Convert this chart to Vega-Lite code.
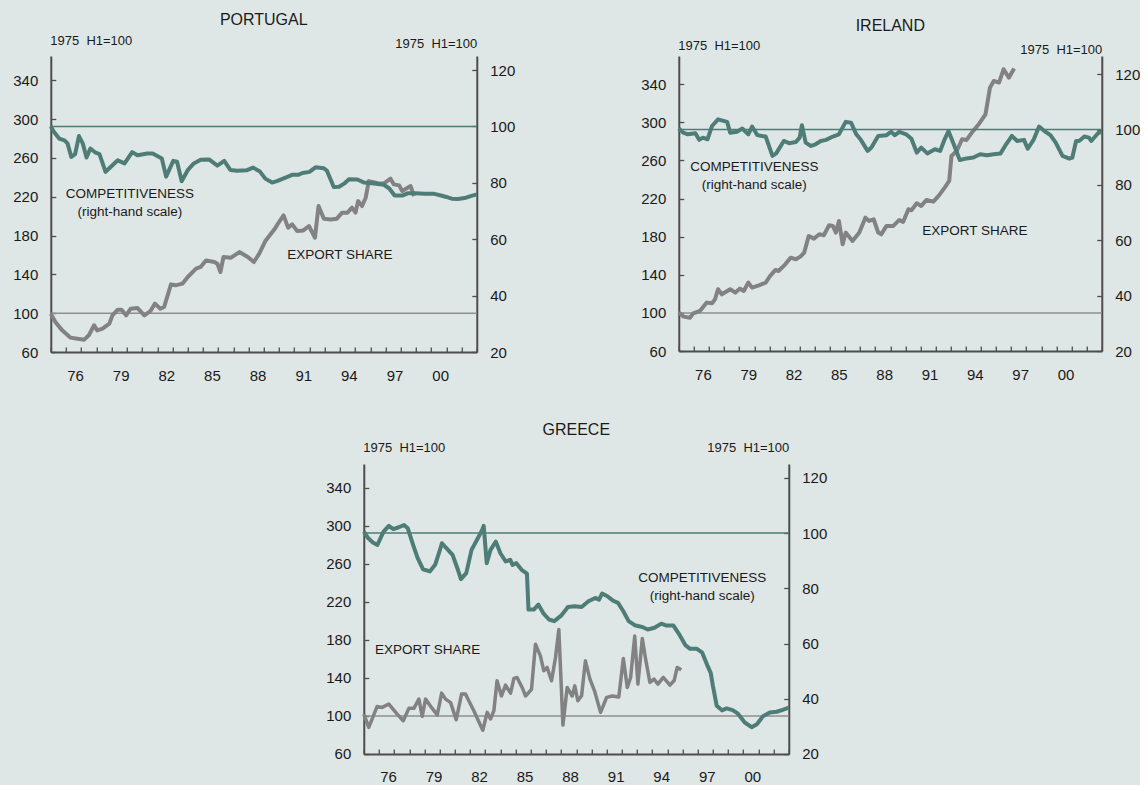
{
  "$schema": "https://vega.github.io/schema/vega-lite/v6.json",
  "background": "#dfe7e6",
  "padding": {"left": 12.3, "top": 11, "right": 0, "bottom": 0},
  "spacing": 39,
  "center": true,
  "config": {
    "view": {"stroke": null},
    "font": "Liberation Sans",
    "axis": {"domainColor": "#4d4d4d", "domainWidth": 2, "tickColor": "#4d4d4d", "tickWidth": 1.3, "labelFont": "Liberation Sans", "labelFontSize": 15, "labelColor": "#1a1a1a", "grid": false, "titleFont": "Liberation Sans", "titleFontSize": 13, "titleFontWeight": "normal", "titleColor": "#1a1a1a"},
    "title": {"font": "Liberation Sans", "fontSize": 16, "fontWeight": "normal", "color": "#1a1a1a", "anchor": "middle", "frame": "group"},
    "text": {"font": "Liberation Sans", "fontSize": 13.5, "color": "#1a1a1a"}
  },
  "datasets": {
    "pt_comp": [
      {"year": 1975.0, "value": 100.1}, {"year": 1975.2, "value": 98.1}, {"year": 1975.55, "value": 95.7}, {"year": 1975.9, "value": 95.1}, {"year": 1976.1, "value": 94.0}, {"year": 1976.35, "value": 89.2}, {"year": 1976.6, "value": 90.2}, {"year": 1976.85, "value": 96.6}, {"year": 1977.1, "value": 94.0}, {"year": 1977.35, "value": 89.0}, {"year": 1977.6, "value": 92.2}, {"year": 1977.95, "value": 90.7}, {"year": 1978.2, "value": 90.2}, {"year": 1978.6, "value": 83.9}, {"year": 1978.95, "value": 85.7}, {"year": 1979.4, "value": 88.0}, {"year": 1979.85, "value": 86.9}, {"year": 1980.35, "value": 90.9}, {"year": 1980.7, "value": 89.8}, {"year": 1981.35, "value": 90.4}, {"year": 1981.7, "value": 90.4}, {"year": 1982.0, "value": 89.5}, {"year": 1982.3, "value": 88.6}, {"year": 1982.58, "value": 82.2}, {"year": 1983.05, "value": 87.8}, {"year": 1983.3, "value": 87.5}, {"year": 1983.6, "value": 80.6}, {"year": 1984.0, "value": 84.5}, {"year": 1984.4, "value": 86.9}, {"year": 1984.85, "value": 88.2}, {"year": 1985.4, "value": 88.3}, {"year": 1985.95, "value": 86.1}, {"year": 1986.4, "value": 87.8}, {"year": 1986.8, "value": 84.6}, {"year": 1987.25, "value": 84.3}, {"year": 1987.9, "value": 84.5}, {"year": 1988.3, "value": 85.4}, {"year": 1988.75, "value": 84.0}, {"year": 1989.1, "value": 81.5}, {"year": 1989.55, "value": 80.1}, {"year": 1989.9, "value": 80.7}, {"year": 1990.55, "value": 82.1}, {"year": 1990.9, "value": 82.9}, {"year": 1991.3, "value": 82.9}, {"year": 1991.55, "value": 83.5}, {"year": 1992.0, "value": 83.9}, {"year": 1992.4, "value": 85.5}, {"year": 1992.95, "value": 85.2}, {"year": 1993.15, "value": 84.3}, {"year": 1993.6, "value": 78.5}, {"year": 1993.95, "value": 78.6}, {"year": 1994.3, "value": 79.8}, {"year": 1994.6, "value": 81.3}, {"year": 1995.15, "value": 81.2}, {"year": 1995.6, "value": 80.1}, {"year": 1996.25, "value": 79.8}, {"year": 1996.9, "value": 79.3}, {"year": 1997.25, "value": 78.0}, {"year": 1997.6, "value": 75.5}, {"year": 1998.1, "value": 75.5}, {"year": 1998.45, "value": 76.3}, {"year": 1999.0, "value": 76.3}, {"year": 1999.55, "value": 76.1}, {"year": 2000.2, "value": 76.1}, {"year": 2000.65, "value": 75.5}, {"year": 2001.0, "value": 75.0}, {"year": 2001.35, "value": 74.4}, {"year": 2001.75, "value": 74.3}, {"year": 2002.2, "value": 74.6}, {"year": 2002.6, "value": 75.3}, {"year": 2003.0, "value": 75.9}
    ],
    "pt_exp": [
      {"year": 1975.0, "value": 99.5}, {"year": 1975.3, "value": 90.9}, {"year": 1975.75, "value": 82.3}, {"year": 1976.3, "value": 74.8}, {"year": 1976.75, "value": 73.7}, {"year": 1977.2, "value": 72.7}, {"year": 1977.5, "value": 77.2}, {"year": 1977.85, "value": 87.5}, {"year": 1978.05, "value": 82.3}, {"year": 1978.4, "value": 84.0}, {"year": 1978.85, "value": 89.2}, {"year": 1979.05, "value": 97.8}, {"year": 1979.4, "value": 103.6}, {"year": 1979.65, "value": 103.6}, {"year": 1979.95, "value": 97.8}, {"year": 1980.25, "value": 104.6}, {"year": 1980.7, "value": 105.3}, {"year": 1981.15, "value": 97.8}, {"year": 1981.55, "value": 102.2}, {"year": 1981.85, "value": 109.8}, {"year": 1982.2, "value": 104.6}, {"year": 1982.45, "value": 106.4}, {"year": 1982.9, "value": 129.7}, {"year": 1983.2, "value": 128.7}, {"year": 1983.65, "value": 130.4}, {"year": 1984.0, "value": 137.3}, {"year": 1984.55, "value": 145.9}, {"year": 1984.85, "value": 147.6}, {"year": 1985.2, "value": 154.4}, {"year": 1985.75, "value": 152.7}, {"year": 1985.95, "value": 151.0}, {"year": 1986.15, "value": 142.4}, {"year": 1986.35, "value": 157.9}, {"year": 1986.85, "value": 157.2}, {"year": 1987.4, "value": 163.0}, {"year": 1987.95, "value": 157.9}, {"year": 1988.35, "value": 152.7}, {"year": 1988.7, "value": 161.3}, {"year": 1989.1, "value": 174.3}, {"year": 1989.7, "value": 186.4}, {"year": 1990.0, "value": 193.9}, {"year": 1990.3, "value": 200.8}, {"year": 1990.6, "value": 188.1}, {"year": 1990.87, "value": 191.5}, {"year": 1991.2, "value": 184.6}, {"year": 1991.6, "value": 185.3}, {"year": 1991.97, "value": 189.8}, {"year": 1992.36, "value": 177.8}, {"year": 1992.6, "value": 210.4}, {"year": 1992.95, "value": 197.4}, {"year": 1993.4, "value": 196.5}, {"year": 1993.8, "value": 197.4}, {"year": 1994.15, "value": 203.6}, {"year": 1994.5, "value": 203.6}, {"year": 1994.8, "value": 208.7}, {"year": 1995.03, "value": 203.6}, {"year": 1995.2, "value": 215.5}, {"year": 1995.46, "value": 210.4}, {"year": 1995.7, "value": 219.0}, {"year": 1995.9, "value": 236.1}, {"year": 1996.5, "value": 234.0}, {"year": 1996.9, "value": 233.7}, {"year": 1997.33, "value": 238.6}, {"year": 1997.55, "value": 232.7}, {"year": 1997.9, "value": 231.7}, {"year": 1998.1, "value": 225.8}, {"year": 1998.45, "value": 229.3}, {"year": 1998.65, "value": 231.0}, {"year": 1998.87, "value": 220.7}
    ],
    "ie_comp": [
      {"year": 1975.0, "value": 100.4}, {"year": 1975.3, "value": 98.9}, {"year": 1975.6, "value": 98.3}, {"year": 1976.1, "value": 98.7}, {"year": 1976.35, "value": 96.3}, {"year": 1976.6, "value": 97.1}, {"year": 1976.9, "value": 96.5}, {"year": 1977.2, "value": 101.3}, {"year": 1977.6, "value": 103.7}, {"year": 1978.2, "value": 102.8}, {"year": 1978.4, "value": 98.9}, {"year": 1978.85, "value": 99.2}, {"year": 1979.2, "value": 100.4}, {"year": 1979.6, "value": 98.3}, {"year": 1979.85, "value": 101.1}, {"year": 1980.2, "value": 98.0}, {"year": 1980.5, "value": 97.7}, {"year": 1980.75, "value": 97.5}, {"year": 1981.2, "value": 90.5}, {"year": 1981.45, "value": 91.4}, {"year": 1981.95, "value": 95.9}, {"year": 1982.3, "value": 95.1}, {"year": 1982.75, "value": 95.5}, {"year": 1983.0, "value": 97.1}, {"year": 1983.15, "value": 101.6}, {"year": 1983.4, "value": 95.3}, {"year": 1983.75, "value": 94.1}, {"year": 1984.05, "value": 94.7}, {"year": 1984.4, "value": 95.9}, {"year": 1984.75, "value": 96.3}, {"year": 1985.2, "value": 97.5}, {"year": 1985.6, "value": 98.3}, {"year": 1986.05, "value": 102.8}, {"year": 1986.4, "value": 102.5}, {"year": 1986.75, "value": 98.3}, {"year": 1987.05, "value": 96.3}, {"year": 1987.5, "value": 92.3}, {"year": 1987.75, "value": 93.5}, {"year": 1988.2, "value": 97.7}, {"year": 1988.75, "value": 98.0}, {"year": 1989.05, "value": 99.2}, {"year": 1989.3, "value": 98.0}, {"year": 1989.6, "value": 99.2}, {"year": 1990.05, "value": 98.3}, {"year": 1990.4, "value": 96.7}, {"year": 1990.75, "value": 91.7}, {"year": 1991.05, "value": 93.5}, {"year": 1991.45, "value": 91.4}, {"year": 1991.95, "value": 92.9}, {"year": 1992.3, "value": 92.3}, {"year": 1992.6, "value": 96.5}, {"year": 1992.85, "value": 99.5}, {"year": 1993.2, "value": 94.7}, {"year": 1993.6, "value": 89.0}, {"year": 1994.05, "value": 89.6}, {"year": 1994.5, "value": 89.9}, {"year": 1994.95, "value": 91.1}, {"year": 1995.4, "value": 90.7}, {"year": 1995.85, "value": 91.1}, {"year": 1996.3, "value": 91.4}, {"year": 1996.6, "value": 94.1}, {"year": 1997.05, "value": 97.7}, {"year": 1997.4, "value": 95.9}, {"year": 1997.85, "value": 96.3}, {"year": 1998.1, "value": 93.1}, {"year": 1998.5, "value": 96.5}, {"year": 1998.85, "value": 101.1}, {"year": 1999.2, "value": 99.5}, {"year": 1999.6, "value": 98.0}, {"year": 1999.95, "value": 95.3}, {"year": 2000.4, "value": 90.5}, {"year": 2000.85, "value": 89.5}, {"year": 2001.05, "value": 89.9}, {"year": 2001.3, "value": 95.9}, {"year": 2001.5, "value": 95.9}, {"year": 2001.85, "value": 97.5}, {"year": 2002.15, "value": 97.1}, {"year": 2002.3, "value": 95.9}, {"year": 2002.75, "value": 98.7}, {"year": 2003.0, "value": 99.2}
    ],
    "ie_exp": [
      {"year": 1975.0, "value": 100.3}, {"year": 1975.3, "value": 96.1}, {"year": 1975.75, "value": 95.0}, {"year": 1975.95, "value": 99.6}, {"year": 1976.4, "value": 102.0}, {"year": 1976.85, "value": 110.8}, {"year": 1977.2, "value": 110.1}, {"year": 1977.4, "value": 114.3}, {"year": 1977.6, "value": 124.8}, {"year": 1977.85, "value": 119.5}, {"year": 1978.4, "value": 124.8}, {"year": 1978.75, "value": 121.3}, {"year": 1979.05, "value": 125.5}, {"year": 1979.3, "value": 123.0}, {"year": 1979.6, "value": 131.8}, {"year": 1979.85, "value": 126.5}, {"year": 1980.3, "value": 129.0}, {"year": 1980.75, "value": 131.8}, {"year": 1981.05, "value": 138.8}, {"year": 1981.4, "value": 145.1}, {"year": 1981.6, "value": 144.0}, {"year": 1982.05, "value": 151.0}, {"year": 1982.4, "value": 158.0}, {"year": 1982.75, "value": 156.3}, {"year": 1983.05, "value": 159.1}, {"year": 1983.3, "value": 163.3}, {"year": 1983.6, "value": 180.8}, {"year": 1983.95, "value": 178.0}, {"year": 1984.3, "value": 182.5}, {"year": 1984.6, "value": 181.5}, {"year": 1984.95, "value": 192.0}, {"year": 1985.2, "value": 191.3}, {"year": 1985.4, "value": 184.3}, {"year": 1985.6, "value": 196.5}, {"year": 1985.85, "value": 172.0}, {"year": 1986.05, "value": 184.3}, {"year": 1986.5, "value": 175.5}, {"year": 1986.95, "value": 184.3}, {"year": 1987.35, "value": 200.0}, {"year": 1987.6, "value": 196.5}, {"year": 1987.9, "value": 198.3}, {"year": 1988.2, "value": 184.3}, {"year": 1988.4, "value": 182.5}, {"year": 1988.75, "value": 191.3}, {"year": 1989.2, "value": 191.3}, {"year": 1989.6, "value": 197.6}, {"year": 1989.85, "value": 195.5}, {"year": 1990.2, "value": 208.8}, {"year": 1990.4, "value": 207.7}, {"year": 1990.75, "value": 215.1}, {"year": 1991.05, "value": 212.3}, {"year": 1991.4, "value": 218.6}, {"year": 1991.85, "value": 216.8}, {"year": 1992.2, "value": 222.8}, {"year": 1992.6, "value": 231.5}, {"year": 1992.9, "value": 238.5}, {"year": 1993.05, "value": 264.8}, {"year": 1993.4, "value": 270.0}, {"year": 1993.75, "value": 282.3}, {"year": 1994.05, "value": 281.6}, {"year": 1994.4, "value": 289.3}, {"year": 1994.85, "value": 298.0}, {"year": 1995.3, "value": 308.5}, {"year": 1995.6, "value": 336.5}, {"year": 1995.85, "value": 343.5}, {"year": 1996.2, "value": 341.8}, {"year": 1996.5, "value": 355.8}, {"year": 1996.85, "value": 347.0}, {"year": 1997.2, "value": 356.5}
    ],
    "gr_comp": [
      {"year": 1975.0, "value": 100.5}, {"year": 1975.3, "value": 98.1}, {"year": 1975.6, "value": 96.6}, {"year": 1975.9, "value": 95.7}, {"year": 1976.3, "value": 100.5}, {"year": 1976.65, "value": 102.6}, {"year": 1976.95, "value": 101.4}, {"year": 1977.3, "value": 102.1}, {"year": 1977.65, "value": 102.9}, {"year": 1977.9, "value": 101.7}, {"year": 1978.25, "value": 95.7}, {"year": 1978.55, "value": 90.9}, {"year": 1978.9, "value": 86.9}, {"year": 1979.35, "value": 86.1}, {"year": 1979.7, "value": 88.5}, {"year": 1979.95, "value": 92.7}, {"year": 1980.15, "value": 96.3}, {"year": 1980.5, "value": 94.2}, {"year": 1980.85, "value": 92.1}, {"year": 1981.2, "value": 86.7}, {"year": 1981.4, "value": 83.3}, {"year": 1981.75, "value": 85.5}, {"year": 1982.1, "value": 93.9}, {"year": 1982.45, "value": 97.5}, {"year": 1982.8, "value": 101.1}, {"year": 1982.9, "value": 102.6}, {"year": 1983.1, "value": 89.1}, {"year": 1983.35, "value": 93.9}, {"year": 1983.7, "value": 96.9}, {"year": 1984.0, "value": 92.7}, {"year": 1984.35, "value": 89.7}, {"year": 1984.65, "value": 90.3}, {"year": 1984.8, "value": 88.5}, {"year": 1985.05, "value": 89.1}, {"year": 1985.4, "value": 86.7}, {"year": 1985.75, "value": 85.3}, {"year": 1985.85, "value": 72.3}, {"year": 1986.2, "value": 72.3}, {"year": 1986.5, "value": 74.1}, {"year": 1986.85, "value": 70.8}, {"year": 1987.2, "value": 68.7}, {"year": 1987.55, "value": 68.1}, {"year": 1988.0, "value": 70.1}, {"year": 1988.45, "value": 73.2}, {"year": 1988.9, "value": 73.5}, {"year": 1989.35, "value": 73.2}, {"year": 1989.8, "value": 75.3}, {"year": 1990.25, "value": 76.5}, {"year": 1990.5, "value": 75.9}, {"year": 1990.7, "value": 78.1}, {"year": 1991.05, "value": 77.1}, {"year": 1991.4, "value": 75.6}, {"year": 1991.75, "value": 74.7}, {"year": 1992.1, "value": 71.7}, {"year": 1992.45, "value": 68.1}, {"year": 1992.9, "value": 66.5}, {"year": 1993.35, "value": 66.0}, {"year": 1993.7, "value": 65.1}, {"year": 1994.15, "value": 65.7}, {"year": 1994.6, "value": 67.2}, {"year": 1994.95, "value": 66.5}, {"year": 1995.4, "value": 66.5}, {"year": 1995.75, "value": 63.6}, {"year": 1996.2, "value": 59.3}, {"year": 1996.5, "value": 58.1}, {"year": 1996.95, "value": 58.1}, {"year": 1997.3, "value": 56.7}, {"year": 1997.65, "value": 51.9}, {"year": 1997.86, "value": 49.3}, {"year": 1998.0, "value": 44.7}, {"year": 1998.25, "value": 37.5}, {"year": 1998.6, "value": 35.8}, {"year": 1998.9, "value": 36.5}, {"year": 1999.3, "value": 35.9}, {"year": 1999.65, "value": 34.6}, {"year": 2000.1, "value": 31.4}, {"year": 2000.55, "value": 29.7}, {"year": 2000.9, "value": 30.8}, {"year": 2001.3, "value": 33.7}, {"year": 2001.75, "value": 35.0}, {"year": 2002.2, "value": 35.3}, {"year": 2002.6, "value": 36.0}, {"year": 2003.0, "value": 36.8}
    ],
    "gr_exp": [
      {"year": 1975.0, "value": 102.0}, {"year": 1975.33, "value": 88.0}, {"year": 1975.88, "value": 110.0}, {"year": 1976.2, "value": 109.0}, {"year": 1976.65, "value": 112.5}, {"year": 1977.2, "value": 102.0}, {"year": 1977.6, "value": 95.0}, {"year": 1977.97, "value": 108.0}, {"year": 1978.3, "value": 108.0}, {"year": 1978.63, "value": 117.7}, {"year": 1978.85, "value": 99.6}, {"year": 1979.07, "value": 117.7}, {"year": 1979.46, "value": 109.0}, {"year": 1979.84, "value": 101.0}, {"year": 1980.13, "value": 124.0}, {"year": 1980.39, "value": 117.7}, {"year": 1980.72, "value": 114.0}, {"year": 1981.09, "value": 96.0}, {"year": 1981.44, "value": 123.0}, {"year": 1981.7, "value": 123.0}, {"year": 1981.92, "value": 116.0}, {"year": 1982.25, "value": 105.5}, {"year": 1982.58, "value": 94.0}, {"year": 1982.84, "value": 85.0}, {"year": 1983.13, "value": 103.8}, {"year": 1983.35, "value": 96.8}, {"year": 1983.57, "value": 105.5}, {"year": 1983.78, "value": 137.0}, {"year": 1984.07, "value": 121.0}, {"year": 1984.34, "value": 132.5}, {"year": 1984.67, "value": 124.0}, {"year": 1984.89, "value": 139.5}, {"year": 1985.1, "value": 140.5}, {"year": 1985.43, "value": 130.0}, {"year": 1985.66, "value": 121.0}, {"year": 1986.05, "value": 128.0}, {"year": 1986.31, "value": 175.5}, {"year": 1986.64, "value": 163.0}, {"year": 1986.86, "value": 147.5}, {"year": 1987.08, "value": 151.0}, {"year": 1987.37, "value": 137.0}, {"year": 1987.63, "value": 161.5}, {"year": 1987.85, "value": 191.0}, {"year": 1988.12, "value": 90.4}, {"year": 1988.4, "value": 130.0}, {"year": 1988.73, "value": 121.0}, {"year": 1988.9, "value": 131.7}, {"year": 1989.1, "value": 116.0}, {"year": 1989.35, "value": 121.3}, {"year": 1989.6, "value": 158.0}, {"year": 1989.9, "value": 138.8}, {"year": 1990.2, "value": 126.5}, {"year": 1990.6, "value": 103.8}, {"year": 1991.0, "value": 119.5}, {"year": 1991.37, "value": 121.0}, {"year": 1991.8, "value": 120.0}, {"year": 1992.1, "value": 160.5}, {"year": 1992.36, "value": 130.0}, {"year": 1992.58, "value": 140.5}, {"year": 1992.85, "value": 184.0}, {"year": 1993.06, "value": 133.5}, {"year": 1993.35, "value": 181.5}, {"year": 1993.57, "value": 159.7}, {"year": 1993.85, "value": 135.3}, {"year": 1994.12, "value": 138.8}, {"year": 1994.38, "value": 133.5}, {"year": 1994.73, "value": 140.5}, {"year": 1995.17, "value": 132.5}, {"year": 1995.44, "value": 137.0}, {"year": 1995.65, "value": 151.0}, {"year": 1995.92, "value": 148.5}
    ]
  },
  "vconcat": [
    {
      "bounds": "flush",
      "spacing": 202,
      "hconcat": [
        {
          "width": 426, "height": 296,
          "title": {"text": "PORTUGAL", "offset": 6.5},
          "resolve": {"scale": {"y": "independent"}},
          "layer": [
            {"layer": [
              {"data": {"values": [{}]}, "mark": {"type": "rule", "color": "#8f8f8f", "strokeWidth": 1.5},
               "encoding": {"y": {"datum": 100, "type": "quantitative", "scale": {"domain": [60, 365], "nice": false, "zero": false}}}},
              {"data": {"name": "pt_exp"}, "mark": {"type": "line", "color": "#828282", "strokeWidth": 4, "strokeJoin": "round"},
               "encoding": {
                 "x": {"field": "year", "type": "quantitative", "scale": {"domain": [1975, 2003], "nice": false, "zero": false},
                       "axis": {"values": [1975,1976,1977,1978,1979,1980,1981,1982,1983,1984,1985,1986,1987,1988,1989,1990,1991,1992,1993,1994,1995,1996,1997,1998,1999,2000,2001,2002,2003], "tickCount": 100, "labelExpr": "indexof([1976,1979,1982,1985,1988,1991,1994,1997,2000], datum.value) >= 0 ? substring(toString(datum.value), 2) : ''", "labelOffset": 9, "labelOverlap": false, "labelFlush": false, "labelBound": false, "tickSize": -5, "labelPadding": 21, "title": null}},
                 "y": {"field": "value", "type": "quantitative", "scale": {"domain": [60, 365], "nice": false, "zero": false},
                       "axis": {"orient": "left", "values": [60,100,140,180,220,260,300,340], "tickCount": 50, "tickSize": -5, "labelPadding": 18, "title": "1975\u00a0 H1=100", "titleAngle": 0, "titleAlign": "left", "titleBaseline": "alphabetic", "titleX": -1, "titleY": -12}}}},
              {"data": {"values": [{"label": "EXPORT SHARE"}]}, "mark": {"type": "text", "align": "center", "baseline": "middle"},
               "encoding": {"x": {"datum": 1994.0, "type": "quantitative", "scale": {"domain": [1975, 2003], "nice": false, "zero": false}},
                            "y": {"datum": 159.6, "type": "quantitative", "scale": {"domain": [60, 365], "nice": false, "zero": false}},
                            "text": {"field": "label"}}}
            ]},
            {"layer": [
              {"data": {"values": [{}]}, "mark": {"type": "rule", "color": "#4e7c77", "strokeWidth": 1.5},
               "encoding": {"y": {"datum": 100, "type": "quantitative", "scale": {"domain": [20, 125], "nice": false, "zero": false}}}},
              {"data": {"name": "pt_comp"}, "mark": {"type": "line", "color": "#4e7c77", "strokeWidth": 4, "strokeJoin": "round"},
               "encoding": {
                 "x": {"field": "year", "type": "quantitative", "scale": {"domain": [1975, 2003], "nice": false, "zero": false}},
                 "y": {"field": "value", "type": "quantitative", "scale": {"domain": [20, 125], "nice": false, "zero": false},
                       "axis": {"orient": "right", "values": [20,40,60,80,100,120], "tickCount": 50, "tickSize": -5, "labelPadding": 18, "title": "1975\u00a0 H1=100", "titleAngle": 0, "titleAlign": "right", "titleBaseline": "alphabetic", "titleX": 0, "titleY": -9}}}},
              {"data": {"values": [{}]}, "mark": {"type": "text", "align": "center", "baseline": "middle", "text": ["COMPETITIVENESS", "(right-hand scale)"], "lineHeight": 18},
               "encoding": {"x": {"datum": 1980.2, "type": "quantitative", "scale": {"domain": [1975, 2003], "nice": false, "zero": false}},
                            "y": {"datum": 75.9, "type": "quantitative", "scale": {"domain": [20, 125], "nice": false, "zero": false}}}}
            ]}
          ]
        },
        {
          "width": 423, "height": 295,
          "title": {"text": "IRELAND", "offset": 5.5},
          "resolve": {"scale": {"y": "independent"}},
          "layer": [
            {"layer": [
              {"data": {"values": [{}]}, "mark": {"type": "rule", "color": "#8f8f8f", "strokeWidth": 1.5},
               "encoding": {"y": {"datum": 100, "type": "quantitative", "scale": {"domain": [60, 369.7], "nice": false, "zero": false}}}},
              {"data": {"name": "ie_exp"}, "mark": {"type": "line", "color": "#828282", "strokeWidth": 4, "strokeJoin": "round"},
               "encoding": {
                 "x": {"field": "year", "type": "quantitative", "scale": {"domain": [1975, 2003], "nice": false, "zero": false},
                       "axis": {"values": [1975,1976,1977,1978,1979,1980,1981,1982,1983,1984,1985,1986,1987,1988,1989,1990,1991,1992,1993,1994,1995,1996,1997,1998,1999,2000,2001,2002,2003], "tickCount": 100, "labelExpr": "indexof([1976,1979,1982,1985,1988,1991,1994,1997,2000], datum.value) >= 0 ? substring(toString(datum.value), 2) : ''", "labelOffset": 9, "labelOverlap": false, "labelFlush": false, "labelBound": false, "tickSize": -5, "labelPadding": 21, "title": null}},
                 "y": {"field": "value", "type": "quantitative", "scale": {"domain": [60, 369.7], "nice": false, "zero": false},
                       "axis": {"orient": "left", "values": [60,100,140,180,220,260,300,340], "tickCount": 50, "tickSize": -5, "labelPadding": 18, "title": "1975\u00a0 H1=100", "titleAngle": 0, "titleAlign": "left", "titleBaseline": "alphabetic", "titleX": -1, "titleY": -7}}}},
              {"data": {"values": [{"label": "EXPORT SHARE"}]}, "mark": {"type": "text", "align": "center", "baseline": "middle"},
               "encoding": {"x": {"datum": 1994.6, "type": "quantitative", "scale": {"domain": [1975, 2003], "nice": false, "zero": false}},
                            "y": {"datum": 186.2, "type": "quantitative", "scale": {"domain": [60, 369.7], "nice": false, "zero": false}},
                            "text": {"field": "label"}}}
            ]},
            {"layer": [
              {"data": {"values": [{}]}, "mark": {"type": "rule", "color": "#4e7c77", "strokeWidth": 1.5},
               "encoding": {"y": {"datum": 100, "type": "quantitative", "scale": {"domain": [20, 126.6], "nice": false, "zero": false}}}},
              {"data": {"name": "ie_comp"}, "mark": {"type": "line", "color": "#4e7c77", "strokeWidth": 4, "strokeJoin": "round"},
               "encoding": {
                 "x": {"field": "year", "type": "quantitative", "scale": {"domain": [1975, 2003], "nice": false, "zero": false}},
                 "y": {"field": "value", "type": "quantitative", "scale": {"domain": [20, 126.6], "nice": false, "zero": false},
                       "axis": {"orient": "right", "values": [20,40,60,80,100,120], "tickCount": 50, "tickSize": -5, "labelPadding": 18, "title": "1975\u00a0 H1=100", "titleAngle": 0, "titleAlign": "right", "titleBaseline": "alphabetic", "titleX": 0, "titleY": -3}}}},
              {"data": {"values": [{}]}, "mark": {"type": "text", "align": "center", "baseline": "middle", "text": ["COMPETITIVENESS", "(right-hand scale)"], "lineHeight": 18},
               "encoding": {"x": {"datum": 1980.0, "type": "quantitative", "scale": {"domain": [1975, 2003], "nice": false, "zero": false}},
                            "y": {"datum": 86.6, "type": "quantitative", "scale": {"domain": [20, 126.6], "nice": false, "zero": false}}}}
            ]}
          ]
        }
      ]
    },
    {
      "width": 425, "height": 290,
      "title": {"text": "GREECE", "offset": 4},
      "resolve": {"scale": {"y": "independent"}},
      "layer": [
        {"layer": [
          {"data": {"values": [{}]}, "mark": {"type": "rule", "color": "#8f8f8f", "strokeWidth": 1.5},
           "encoding": {"y": {"datum": 100, "type": "quantitative", "scale": {"domain": [60, 365], "nice": false, "zero": false}}}},
          {"data": {"name": "gr_exp"}, "mark": {"type": "line", "color": "#828282", "strokeWidth": 3.5, "strokeJoin": "round"},
           "encoding": {
             "x": {"field": "year", "type": "quantitative", "scale": {"domain": [1975, 2003], "nice": false, "zero": false},
                   "axis": {"values": [1975,1976,1977,1978,1979,1980,1981,1982,1983,1984,1985,1986,1987,1988,1989,1990,1991,1992,1993,1994,1995,1996,1997,1998,1999,2000,2001,2002,2003], "tickCount": 100, "labelExpr": "indexof([1976,1979,1982,1985,1988,1991,1994,1997,2000], datum.value) >= 0 ? substring(toString(datum.value), 2) : ''", "labelOffset": 9, "labelOverlap": false, "labelFlush": false, "labelBound": false, "tickSize": -5, "labelPadding": 21, "title": null}},
             "y": {"field": "value", "type": "quantitative", "scale": {"domain": [60, 365], "nice": false, "zero": false},
                   "axis": {"orient": "left", "values": [60,100,140,180,220,260,300,340], "tickCount": 50, "tickSize": -5, "labelPadding": 18, "title": "1975\u00a0 H1=100", "titleAngle": 0, "titleAlign": "left", "titleBaseline": "alphabetic", "titleX": -1, "titleY": -12}}}},
          {"data": {"values": [{"label": "EXPORT SHARE"}]}, "mark": {"type": "text", "align": "center", "baseline": "middle"},
           "encoding": {"x": {"datum": 1979.2, "type": "quantitative", "scale": {"domain": [1975, 2003], "nice": false, "zero": false}},
                        "y": {"datum": 169.2, "type": "quantitative", "scale": {"domain": [60, 365], "nice": false, "zero": false}},
                        "text": {"field": "label"}}}
        ]},
        {"layer": [
          {"data": {"values": [{}]}, "mark": {"type": "rule", "color": "#4e7c77", "strokeWidth": 1.5},
           "encoding": {"y": {"datum": 100, "type": "quantitative", "scale": {"domain": [20, 125], "nice": false, "zero": false}}}},
          {"data": {"name": "gr_comp"}, "mark": {"type": "line", "color": "#4e7c77", "strokeWidth": 4, "strokeJoin": "round"},
           "encoding": {
             "x": {"field": "year", "type": "quantitative", "scale": {"domain": [1975, 2003], "nice": false, "zero": false}},
             "y": {"field": "value", "type": "quantitative", "scale": {"domain": [20, 125], "nice": false, "zero": false},
                   "axis": {"orient": "right", "values": [20,40,60,80,100,120], "tickCount": 50, "tickSize": -5, "labelPadding": 18, "title": "1975\u00a0 H1=100", "titleAngle": 0, "titleAlign": "right", "titleBaseline": "alphabetic", "titleX": 0, "titleY": -12}}}},
          {"data": {"values": [{}]}, "mark": {"type": "text", "align": "center", "baseline": "middle", "text": ["COMPETITIVENESS", "(right-hand scale)"], "lineHeight": 18},
           "encoding": {"x": {"datum": 1997.3, "type": "quantitative", "scale": {"domain": [1975, 2003], "nice": false, "zero": false}},
                        "y": {"datum": 83.7, "type": "quantitative", "scale": {"domain": [20, 125], "nice": false, "zero": false}}}}
        ]}
      ]
    }
  ]
}
